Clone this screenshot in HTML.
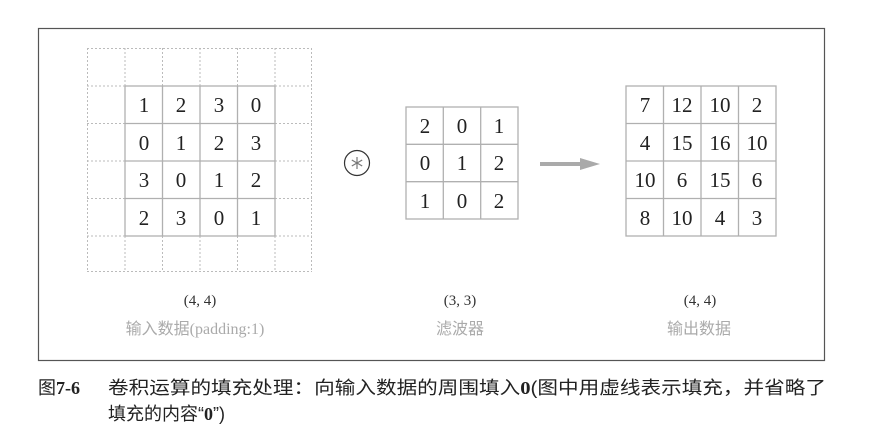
<!DOCTYPE html>
<html><head><meta charset="utf-8"><style>
html,body{margin:0;padding:0;background:#fff;}
svg{display:block}
.n{font-family:"Liberation Serif","DejaVu Serif",serif;font-size:21px;fill:#222;text-anchor:middle}
.s{font-family:"Liberation Serif",serif;font-size:15px;fill:#333;text-anchor:middle}
.l{font-family:"Liberation Serif","Noto Sans CJK SC",sans-serif;font-size:16px;fill:#aaa;text-anchor:middle}
.c{font-family:"Liberation Sans","Noto Sans CJK SC",sans-serif;font-size:18px;fill:#222}
</style></head><body>
<svg width="886" height="448" viewBox="0 0 886 448" xmlns="http://www.w3.org/2000/svg">
<rect x="38.5" y="28.5" width="786" height="332" fill="none" stroke="#555" stroke-width="1.2"/>
<g stroke="#bbb" stroke-width="1" stroke-dasharray="2,2" fill="none">
<line x1="87" y1="48.5" x2="312" y2="48.5"/><line x1="87" y1="86" x2="312" y2="86"/><line x1="87" y1="123.5" x2="312" y2="123.5"/><line x1="87" y1="161" x2="312" y2="161"/><line x1="87" y1="198.5" x2="312" y2="198.5"/><line x1="87" y1="236" x2="312" y2="236"/><line x1="87" y1="271.5" x2="312" y2="271.5"/>
<line x1="87.5" y1="48" x2="87.5" y2="272"/><line x1="125" y1="48" x2="125" y2="272"/><line x1="162.5" y1="48" x2="162.5" y2="272"/><line x1="200" y1="48" x2="200" y2="272"/><line x1="237.5" y1="48" x2="237.5" y2="272"/><line x1="275" y1="48" x2="275" y2="272"/><line x1="311.5" y1="48" x2="311.5" y2="272"/>
</g>
<g stroke="#b0b0b0" stroke-width="1.3" fill="none">
<rect x="125" y="86" width="150" height="150" fill="#fff"/>
<line x1="125" y1="123.5" x2="275" y2="123.5"/><line x1="125" y1="161" x2="275" y2="161"/><line x1="125" y1="198.5" x2="275" y2="198.5"/>
<line x1="162.5" y1="86" x2="162.5" y2="236"/><line x1="200" y1="86" x2="200" y2="236"/><line x1="237.5" y1="86" x2="237.5" y2="236"/>
<rect x="406" y="107" width="112" height="112" fill="#fff"/>
<line x1="406" y1="144.3" x2="518" y2="144.3"/><line x1="406" y1="181.7" x2="518" y2="181.7"/>
<line x1="443.3" y1="107" x2="443.3" y2="219"/><line x1="480.7" y1="107" x2="480.7" y2="219"/>
<rect x="626" y="86" width="150" height="150" fill="#fff"/>
<line x1="626" y1="123.5" x2="776" y2="123.5"/><line x1="626" y1="161" x2="776" y2="161"/><line x1="626" y1="198.5" x2="776" y2="198.5"/>
<line x1="663.5" y1="86" x2="663.5" y2="236"/><line x1="701" y1="86" x2="701" y2="236"/><line x1="738.5" y1="86" x2="738.5" y2="236"/>
</g>
<g class="n">
<text x="144" y="112">1</text><text x="181" y="112">2</text><text x="219" y="112">3</text><text x="256" y="112">0</text>
<text x="144" y="150">0</text><text x="181" y="150">1</text><text x="219" y="150">2</text><text x="256" y="150">3</text>
<text x="144" y="187">3</text><text x="181" y="187">0</text><text x="219" y="187">1</text><text x="256" y="187">2</text>
<text x="144" y="225">2</text><text x="181" y="225">3</text><text x="219" y="225">0</text><text x="256" y="225">1</text>
<text x="425" y="133">2</text><text x="462" y="133">0</text><text x="499" y="133">1</text>
<text x="425" y="170">0</text><text x="462" y="170">1</text><text x="499" y="170">2</text>
<text x="425" y="208">1</text><text x="462" y="208">0</text><text x="499" y="208">2</text>
<text x="645" y="112">7</text><text x="682" y="112">12</text><text x="720" y="112">10</text><text x="757" y="112">2</text>
<text x="645" y="150">4</text><text x="682" y="150">15</text><text x="720" y="150">16</text><text x="757" y="150">10</text>
<text x="645" y="187">10</text><text x="682" y="187">6</text><text x="720" y="187">15</text><text x="757" y="187">6</text>
<text x="645" y="225">8</text><text x="682" y="225">10</text><text x="720" y="225">4</text><text x="757" y="225">3</text>
</g>
<circle cx="357" cy="163" r="12.5" fill="none" stroke="#333" stroke-width="1.2"/>
<g stroke="#777" stroke-width="1.2">
<line x1="357" y1="157" x2="357" y2="169"/><line x1="351.8" y1="160" x2="362.2" y2="166"/><line x1="351.8" y1="166" x2="362.2" y2="160"/>
</g>
<line x1="540" y1="164" x2="584" y2="164" stroke="#aaa" stroke-width="4"/>
<polygon points="580,158 600,164 580,170" fill="#aaa"/>
<text class="s" x="200" y="305">(4, 4)</text>
<text class="s" x="460" y="305">(3, 3)</text>
<text class="s" x="700" y="305">(4, 4)</text>
<text class="l" x="195" y="334">输入数据(padding:1)</text>
<text class="l" x="460" y="334">滤波器</text>
<text class="l" x="699" y="334">输出数据</text>
<text class="c" x="38" y="394">图<tspan font-weight="bold" font-family="Liberation Serif">7-6</tspan></text>
<text class="c" x="108" y="394" textLength="718" lengthAdjust="spacingAndGlyphs">卷积运算的填充处理：向输入数据的周围填入<tspan font-weight="bold" font-family="Liberation Serif">0</tspan>(图中用虚线表示填充，并省略了</text>
<text class="c" x="108" y="420">填充的内容“<tspan font-weight="bold" font-family="Liberation Serif">0</tspan>”)</text>
</svg>
</body></html>
